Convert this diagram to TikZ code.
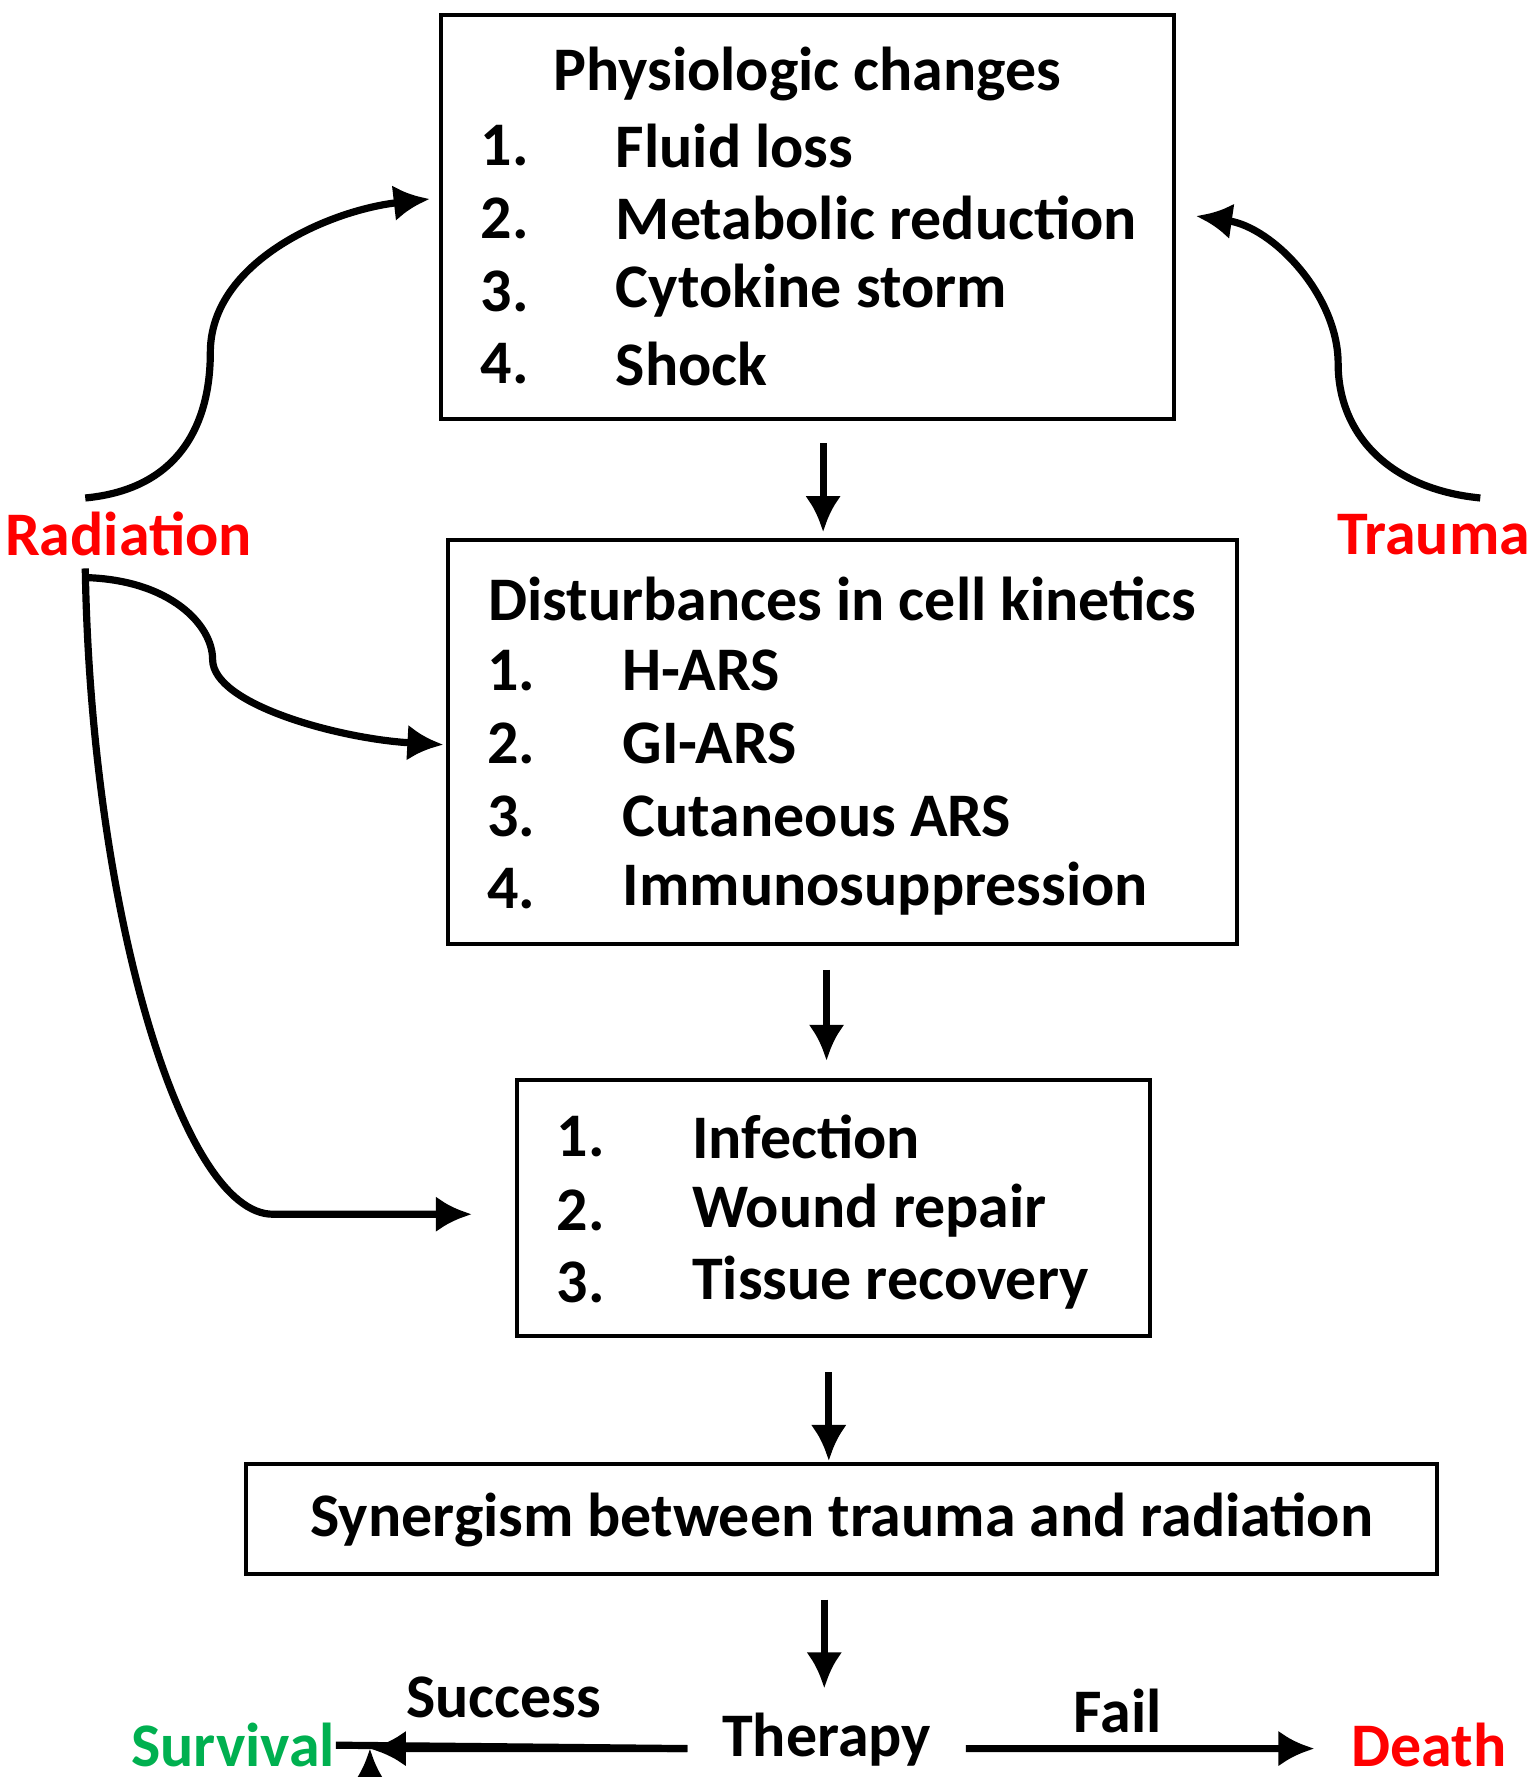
\documentclass[tikz,border=0pt]{standalone}
\usepackage{fontspec}
\setmainfont{Carlito}
\usetikzlibrary{arrows.meta}
\definecolor{radred}{RGB}{255,0,0}
\definecolor{okgreen}{RGB}{0,176,80}
\tikzset{
  box/.style={draw, line width=1pt, inner sep=0pt},
  txt/.style={font=\fontsize{15.5}{18}\selectfont\bfseries, inner sep=0pt},
  flow/.style={line width=1.8pt, -{Latex[length=9pt,width=9pt]}},
}
\newcommand{\listitem}[4]{%
  \node[txt, anchor=west] (#1n) at (422,#2) {#3.};
  \node[txt, anchor=west] (#1t) at (541,#2) {#4};
}
\begin{document}
\begin{tikzpicture}[x=0.01cm, y=-0.01cm]
  \useasboundingbox (0,0) rectangle (1350,1563);

  % boxes
  \node[box, minimum width=6.44cm, minimum height=3.55cm] (phys) at (710,190.5) {};
  \node[box, minimum width=6.94cm, minimum height=3.55cm] (cell) at (741,652.5) {};
  \node[box, minimum width=5.56cm, minimum height=2.25cm] (infe) at (733,1062.5) {};
  \node[box, minimum width=10.47cm, minimum height=0.96cm] (syn) at (740.5,1336) {};

  % box texts
  \node[txt] (physT) at (710,65) {Physiologic changes};
  \listitem{pa}{128}{1}{Fluid loss}
  \listitem{pb}{192}{2}{Metabolic reduction}
  \listitem{pc}{256}{3}{Cytokine storm}
  \listitem{pd}{320}{4}{Shock}

  \node[txt] (cellT) at (741,527) {Disturbances in cell kinetics};
  \begin{scope}[xshift=0.06cm]
    \listitem{ca}{590}{1}{H-ARS}
    \listitem{cb}{654}{2}{GI-ARS}
    \listitem{cc}{718}{3}{Cutaneous ARS}
    \listitem{cd}{782}{4}{Immunosuppression}
  \end{scope}

  \begin{scope}[xshift=0.67cm]
    \listitem{ia}{1000}{1}{Infection}
    \listitem{ib}{1065}{2}{Wound repair}
    \listitem{ic}{1128}{3}{Tissue recovery}
  \end{scope}

  \node[txt] (synT) at (740.5,1337) {Synergism between trauma and radiation};

  % side labels
  \node[txt, text=radred] (rad) at (113,470) {Radiation};
  \node[txt, text=radred] (trau) at (1261,470) {Trauma};
  \node[txt] (ther) at (727,1530) {Therapy};
  \node[txt, text=okgreen] (surv) at (205,1535) {Survival};
  \node[txt, text=radred] (death) at (1257,1535) {Death};
  \node[txt] (succ) at (443,1493) {Success};
  \node[txt] (fail) at (983,1505) {Fail};

  % vertical arrows
  \coordinate (a1) at (724,390);  \coordinate (a2) at (724,468);
  \coordinate (b1) at (727,853);  \coordinate (b2) at (727,933);
  \coordinate (c1) at (729,1207); \coordinate (c2) at (729,1285);
  \coordinate (d1) at (725,1407); \coordinate (d2) at (725,1485);
  \draw[flow] (a1) -- (a2);
  \draw[flow] (b1) -- (b2);
  \draw[flow] (c1) -- (c2);
  \draw[flow] (d1) -- (d2);

  % therapy outcomes
  \draw[flow] (ther.west) ++(-30,8) -- (surv.east) ++(30,3);
  \draw[flow] ([xshift=-0.3cm,yshift=-0.08cm]ther.west) -- ([xshift=0.3cm,yshift=-0.03cm]surv.east);
  \draw[flow] ([xshift=0.3cm,yshift=-0.08cm]ther.east) -- ([xshift=-0.32cm,yshift=-0.03cm]death.west);

  % radiation and trauma curves
  \coordinate (r1) at (75,438);  \coordinate (r1e) at (378,175);
  \coordinate (r2) at (75,508);  \coordinate (r2e) at (390,655);
  \coordinate (r3) at (75,500);  \coordinate (r3e) at (415,1068);
  \coordinate (t1) at (1302,438); \coordinate (t1e) at (1052,190);
  \draw[flow] (r1) .. controls (160,430) and (185,370) .. (185,310)
              .. controls (185,230) and (290,185) .. (r1e);
  \draw[flow] (t1) .. controls (1220,430) and (1177,380) .. (1177,320)
              .. controls (1177,260) and (1120,200) .. (t1e);
  \draw[flow] (r2) .. controls (150,510) and (187,550) .. (187,580)
              .. controls (187,620) and (300,650) .. (r2e);
  \draw[flow] (r3) .. controls (80,800) and (160,1068) .. (240,1068) -- (r3e);
\end{tikzpicture}
\end{document}
